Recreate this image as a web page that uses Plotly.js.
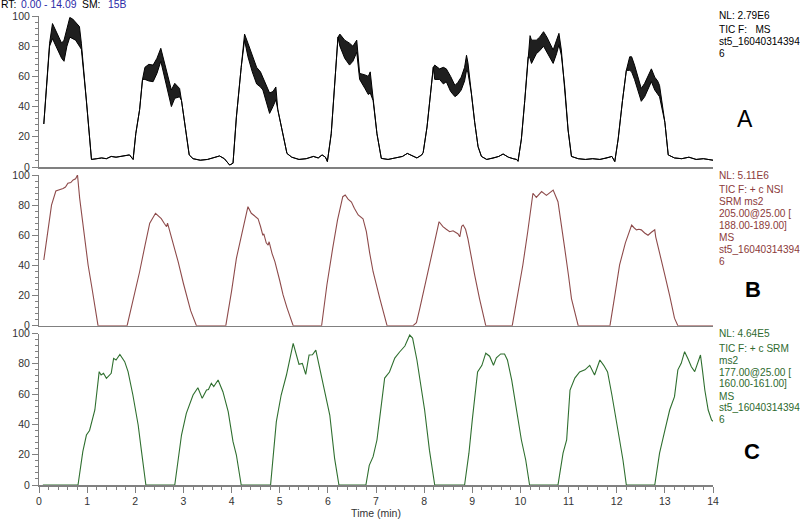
<!DOCTYPE html>
<html>
<head>
<meta charset="utf-8">
<script src="https://cdn.plot.ly/plotly-3.0.1.min.js"></script>
<style>html,body{margin:0;padding:0;background:#fff;}#chart{width:800px;height:519px;}</style>
</head>
<body>
<div id="chart"></div>
<script>
// ---- Panel A (TIC, MS) : upper / lower envelope of the noisy trace ----
const A_time = [
  0.10, 0.16, 0.22, 0.28, 0.35, 0.42, 0.47, 0.52, 0.58, 0.64, 0.70, 0.76, 0.84, 0.88, 0.985, 1.05, 1.09,
  1.20, 1.30, 1.40, 1.50, 1.60, 1.70, 1.80, 1.88, 1.955,
  2.01, 2.09, 2.15, 2.20, 2.28, 2.37, 2.45, 2.53, 2.60, 2.65, 2.70, 2.75, 2.82, 2.92, 2.96, 3.03, 3.12,
  3.20, 3.35, 3.50, 3.65, 3.75, 3.85, 3.96,
  4.03, 4.10, 4.20, 4.27, 4.34, 4.43, 4.52, 4.60, 4.65, 4.72, 4.79, 4.86, 4.92, 4.96, 5.07, 5.15,
  5.25, 5.40, 5.55, 5.70, 5.80, 5.88, 5.95, 5.99,
  6.07, 6.14, 6.21, 6.25, 6.35, 6.45, 6.52, 6.60, 6.66, 6.77, 6.84, 6.88, 6.94, 7.02, 7.11,
  7.25, 7.40, 7.55, 7.65, 7.75, 7.85, 7.95,
  7.98, 8.06, 8.13, 8.19, 8.22, 8.32, 8.40, 8.46, 8.55, 8.64, 8.70, 8.77, 8.84, 8.88, 8.91, 8.98, 9.05, 9.12, 9.19,
  9.30, 9.45, 9.55, 9.64, 9.75, 9.85, 9.92, 9.95,
  10.02, 10.09, 10.16, 10.20, 10.23, 10.33, 10.40, 10.48, 10.55, 10.61, 10.68, 10.75, 10.80, 10.85, 10.92, 10.99, 11.06,
  11.20, 11.35, 11.50, 11.65, 11.80, 11.90, 11.96,
  12.03, 12.12, 12.20, 12.27, 12.31, 12.37, 12.44, 12.51, 12.58, 12.65, 12.72, 12.79, 12.85, 12.89, 13.00, 13.07,
  13.20, 13.35, 13.50, 13.65, 13.80, 14.00
];
const A_high = [
  28.5, 55, 82, 95, 90, 85, 82, 84, 92, 99, 98, 96, 93, 82, 44, 20, 5,
  5.5, 6, 5.5, 7, 6.5, 7, 7.5, 8, 5,
  22, 38, 58, 66, 68, 67.5, 72, 78.6, 70, 63, 58, 51, 55.4, 52, 44, 26.7, 8,
  5.5, 4.5, 5, 6.5, 7.3, 5.5, 1.3,
  2.5, 33, 66, 88, 82, 74, 66, 63, 59.5, 55, 49, 50, 53, 38, 20, 9,
  6.5, 5, 5.5, 7, 6, 8, 6.5, 3.6,
  22, 55, 86, 88, 84, 82, 80, 84, 62, 61, 60, 63, 44, 22, 5.7,
  5, 6, 7, 9, 7.5, 6, 8,
  9.6, 26.5, 46, 66, 67.5, 65, 66, 65, 60, 54, 56, 59.5, 66, 74, 69, 49, 29.6, 13.5, 7,
  5, 6, 7, 8.6, 6.5, 5.5, 5, 3.8,
  18.5, 44, 73, 87, 84, 84, 86, 89.6, 86, 82, 77.5, 84, 88.5, 77.5, 53.5, 24.5, 7,
  5.5, 5, 5.5, 5, 6, 7, 3.6,
  18.5, 44, 64, 73, 73, 67.5, 60, 52, 55.4, 60, 65, 59.5, 57, 54, 29.6, 8,
  6, 5.5, 6.5, 5, 5.5, 4.5
];
const A_low = [
  28.5, 55, 80, 85, 80, 76, 72, 70, 80, 86, 85, 84, 80, 78, 44, 20, 5,
  5.5, 6, 5.5, 7, 6.5, 7, 7.5, 8, 5,
  22, 38, 58, 58, 57, 56.5, 62, 70, 60, 53, 46, 40, 45.5, 46.5, 44, 26.7, 8,
  5.5, 4.5, 5, 6.5, 7.3, 5.5, 1.3,
  2.5, 33, 66, 84, 73, 63, 55, 53, 51, 43, 35.5, 40, 44.5, 38, 20, 9,
  6.5, 5, 5.5, 7, 6, 8, 6.5, 3.6,
  22, 55, 86, 80, 72, 67.5, 70, 76, 58, 52, 48, 49, 44, 22, 5.7,
  5, 6, 7, 9, 7.5, 6, 8,
  9.6, 26.5, 46, 66, 58, 58, 55, 56.5, 50, 46.6, 48, 51, 57, 64, 62.5, 49, 29.6, 13.5, 7,
  5, 6, 7, 8.6, 6.5, 5.5, 5, 3.8,
  18.5, 44, 73, 72, 68.6, 75, 77, 80, 76, 72, 68.6, 75, 81, 74, 53.5, 24.5, 7,
  5.5, 5, 5.5, 5, 6, 7, 3.6,
  18.5, 44, 64, 64, 63, 58, 50, 43.5, 46.5, 51, 56.5, 51, 48, 46.5, 29.6, 8,
  6, 5.5, 6.5, 5, 5.5, 4.5
];

// ---- Panel B (SRM 205 -> 188-189) ----
const B_time = [
  0.10, 0.19, 0.26, 0.35, 0.42, 0.50, 0.55, 0.60, 0.66, 0.71, 0.76, 0.80, 0.845, 0.93, 1.02, 1.10, 1.157, 1.226,
  1.83, 1.95, 2.09, 2.20, 2.30, 2.42, 2.48, 2.54, 2.60, 2.65, 2.67, 2.71, 2.80, 2.89, 3.00, 3.06, 3.15, 3.27,
  3.88, 4.00, 4.10, 4.22, 4.34, 4.41, 4.48, 4.55, 4.60, 4.65, 4.67, 4.72, 4.76, 4.78, 4.84, 4.90, 5.00, 5.07, 5.15, 5.28,
  5.87, 5.98, 6.10, 6.20, 6.31, 6.36, 6.42, 6.49, 6.55, 6.63, 6.73, 6.80, 6.87, 6.94, 7.08, 7.23,
  7.77, 7.84, 7.91, 8.00, 8.12, 8.22, 8.31, 8.39, 8.46, 8.53, 8.60, 8.64, 8.70, 8.74, 8.78, 8.81, 8.86, 8.91, 8.98, 9.05, 9.15, 9.28,
  9.83, 9.95, 10.05, 10.15, 10.26, 10.33, 10.38, 10.44, 10.54, 10.60, 10.68, 10.78, 10.85, 10.92, 11.00, 11.06, 11.20,
  11.86, 11.96, 12.06, 12.18, 12.31, 12.36, 12.41, 12.46, 12.51, 12.58, 12.65, 12.72, 12.79, 12.81, 12.90, 13.00, 13.10, 13.20, 13.27,
  14.00
];
const B_value = [
  43.6, 64.6, 80, 89.4, 90, 91, 92, 94.5, 95, 96.7, 97.5, 100, 84.5, 62, 40.3, 25, 13.7, 0,
  0, 16, 35.8, 53, 68, 74.6, 73, 71, 68, 65.7, 68, 63.5, 54, 42.5, 28, 20.4, 10, 0,
  0, 23, 44.7, 62, 79, 74.6, 73, 71, 66, 60, 61, 55, 53.5, 55.7, 48, 42.5, 30, 20.4, 12, 0,
  0, 27, 51.3, 70, 85.6, 86.7, 84, 82, 78, 73.5, 71, 62.4, 48, 35.8, 18, 0,
  0, 2, 11.5, 25, 42.5, 56, 69, 65.7, 64, 62.4, 63, 62.4, 61, 59, 66, 66.8, 64, 57.6, 45, 33.6, 18, 0,
  0, 22, 40.3, 62, 87.9, 85.2, 87, 89, 86.5, 88, 90, 82.3, 68, 51.3, 33, 18, 0,
  0, 20, 40.3, 55, 66.8, 65, 63.6, 64, 63.6, 61.5, 60, 62, 63.6, 59, 46, 33.6, 20, 5, 0,
  0
];

// ---- Panel C (SRM 177 -> 160-161) ----
const C_time = [
  0.08, 0.81, 0.91, 0.985, 1.05, 1.16, 1.25, 1.29, 1.34, 1.40, 1.50, 1.55, 1.60, 1.68, 1.78, 1.85, 1.95, 2.06, 2.13, 2.22,
  2.82, 2.96, 3.06, 3.20, 3.30, 3.39, 3.48, 3.52, 3.58, 3.63, 3.72, 3.82, 3.93, 4.03, 4.10, 4.20,
  4.81, 4.93, 5.03, 5.14, 5.28, 5.35, 5.40, 5.47, 5.54, 5.61, 5.68, 5.75, 5.80, 5.90, 6.04, 6.14, 6.23,
  6.79, 6.86, 6.94, 7.02, 7.08, 7.18, 7.28, 7.39, 7.49, 7.60, 7.70, 7.76, 7.85, 7.93, 8.01, 8.11, 8.22,
  8.84, 8.93, 9.00, 9.11, 9.20, 9.28, 9.36, 9.44, 9.50, 9.59, 9.67, 9.73, 9.82, 9.92, 10.02, 10.11, 10.19,
  10.78, 10.885, 10.96, 11.03, 11.13, 11.23, 11.34, 11.44, 11.54, 11.65, 11.73, 11.81, 11.90, 11.98, 12.06, 12.13, 12.20,
  12.79, 12.89, 13.00, 13.10, 13.20, 13.27, 13.34, 13.41, 13.48, 13.55, 13.62, 13.67, 13.74, 13.78, 13.83, 13.90, 13.97, 14.00
];
const C_value = [
  0, 0, 22, 33, 36, 49.5, 74.8, 72.6, 73.7, 70.4, 73.7, 83.6, 82.5, 86.2, 81.4, 74.8, 59.4, 39.6, 22, 0,
  0, 33, 47.3, 59.4, 64.2, 57.2, 62.7, 63, 67.1, 65, 69.3, 61.6, 48.4, 28.6, 19.8, 0,
  0, 41.8, 59.4, 72.6, 93.5, 85.8, 79.7, 80.3, 73, 85.8, 86, 89, 81.4, 68.2, 46.2, 17.6, 0,
  0, 13, 18.7, 29.7, 45, 70.6, 74.6, 83.8, 87.8, 91.7, 99, 97, 82.5, 66, 49.5, 23, 0,
  0, 21, 43, 74.6, 79, 87, 85, 79, 84, 86.5, 86.5, 82.5, 69, 49.5, 29.7, 16.5, 0,
  0, 21, 29.7, 62.7, 70.6, 74.6, 76, 79, 72.6, 82.5, 79, 74.6, 59.4, 43, 29.7, 16.5, 0,
  0, 21, 36, 49.5, 58.3, 76, 80.3, 88, 83.3, 78, 74.8, 79, 85.8, 76, 62.7, 49.5, 43, 42
];

const yTickVals = [0, 20, 40, 60, 80, 100];
const xTickVals = [0, 1, 2, 3, 4, 5, 6, 7, 8, 9, 10, 11, 12, 13, 14];

const textA = ['NL: 2.79E6', 'TIC F:   MS', 'st5_16040314394', '6'];
const textB = ['NL: 5.11E6', 'TIC F: + c NSI', 'SRM ms2', '205.00@25.00 [', '188.00-189.00]', 'MS', 'st5_16040314394', '6'];
const textC = ['NL: 4.64E5', 'TIC F: + c SRM', 'ms2', '177.00@25.00 [', '160.00-161.00]', 'MS', 'st5_16040314394', '6'];

// ---- styling / layout ----
const FONT = 'Arial, "Liberation Sans", sans-serif';
const colA = '#000000', colB = '#8e4b4b', colC = '#2f6f2f';
const txtB = '#8b3a3a', txtC = '#2e6a2e';
const axisCol = '#808080';
const L = 39, R = 87, T = 16, Bm = 34, W = 800, H = 519;
const PW = W - L - R, PH = H - T - Bm;
const px2x = p => (p - L) / PW;
const py2y = p => (H - Bm - p) / PH;

const traces = [
  {x: A_time, y: A_low, xaxis: 'x2', yaxis: 'y', mode: 'lines', line: {color: colA, width: 1}, hoverinfo: 'skip'},
  {x: A_time, y: A_high, xaxis: 'x2', yaxis: 'y', mode: 'lines', line: {color: colA, width: 1}, fill: 'tonexty', fillcolor: 'rgba(0,0,0,0.88)', hoverinfo: 'skip'},
  {x: B_time, y: B_value, xaxis: 'x3', yaxis: 'y2', mode: 'lines', line: {color: colB, width: 1.1}},
  {x: C_time, y: C_value, xaxis: 'x', yaxis: 'y3', mode: 'lines', line: {color: colC, width: 1.1}}
];

function yax(domain) {
  return {
    domain: domain, range: [0, 100], showgrid: false, zeroline: false,
    showline: true, linecolor: axisCol, linewidth: 1,
    ticks: 'outside', ticklen: 6, tickcolor: axisCol, tickwidth: 1,
    tickvals: yTickVals, tickfont: {family: FONT, size: 10.5, color: '#333'},
    minor: {dtick: 4, ticks: 'outside', ticklen: 3, tickcolor: axisCol, tickwidth: 1},
    fixedrange: true
  };
}
function xhidden(anchor) {
  return {
    anchor: anchor, matches: 'x', range: [0, 14], showgrid: false, zeroline: false,
    showline: true, linecolor: axisCol, linewidth: 1.5, ticks: '', showticklabels: false,
    layer: 'below traces'
  };
}

const annotations = [];
function addText(px, py, text, color, size, bold, anchor) {
  annotations.push({
    xref: 'paper', yref: 'paper', x: px2x(px), y: py2y(py),
    xanchor: anchor || 'left', yanchor: 'middle', showarrow: false,
    text: bold ? '<b>' + text + '</b>' : text,
    font: {family: FONT, size: size, color: color}
  });
}
const RS = 10.1;
const yA = [15, 29.5, 41.5, 53.3];
textA.forEach((t, i) => addText(716.5, yA[i], t, '#000', RS));
const yB = [175, 189.3, 201.7, 213.7, 225.7, 237.7, 249, 261];
textB.forEach((t, i) => addText(716.5, yB[i], t, txtB, RS));
const yC = [333.3, 348.3, 360, 372.3, 383.8, 396, 407.5, 419.3];
textC.forEach((t, i) => addText(716.5, yC[i], t, txtC, RS));

addText(745, 119, 'A', '#000', 23, false, 'center');
addText(753, 289, 'B', '#000', 22, true, 'center');
addText(752, 451, 'C', '#000', 22, true, 'center');

addText(-1, 5, 'RT:', '#000', 10.4);
addText(19, 5, '0.00 - 14.09', '#2b2ba8', 10.4);
addText(80, 5, 'SM:', '#000', 10.4);
addText(106, 5, '15B', '#2b2ba8', 10.4);

const layout = {
  width: W, height: H,
  margin: {l: L, r: R, t: T, b: Bm, pad: 0},
  paper_bgcolor: '#fff', plot_bgcolor: '#fff',
  showlegend: false,
  font: {family: FONT, size: 10.5, color: '#333'},
  xaxis: {
    anchor: 'y3', domain: [0, 1], range: [0, 14], showgrid: false, zeroline: false,
    showline: true, linecolor: axisCol, linewidth: 1.5, layer: 'below traces',
    ticks: 'outside', ticklen: 6, tickcolor: axisCol, tickwidth: 1,
    tickvals: xTickVals, tickfont: {family: FONT, size: 10.5, color: '#333'},
    minor: {dtick: 0.2, ticks: 'outside', ticklen: 3, tickcolor: axisCol, tickwidth: 1},
    title: {text: 'Time (min)', font: {family: FONT, size: 10.5, color: '#333'}, standoff: 2},
    fixedrange: true
  },
  xaxis2: xhidden('y'),
  xaxis3: xhidden('y2'),
  yaxis: yax([py2y(167), 1]),
  yaxis2: yax([py2y(325.7), py2y(175)]),
  yaxis3: yax([0, py2y(333.5)]),
  annotations: annotations
};

Plotly.newPlot('chart', traces, layout, {staticPlot: true, displayModeBar: false});
</script>
</body>
</html>
